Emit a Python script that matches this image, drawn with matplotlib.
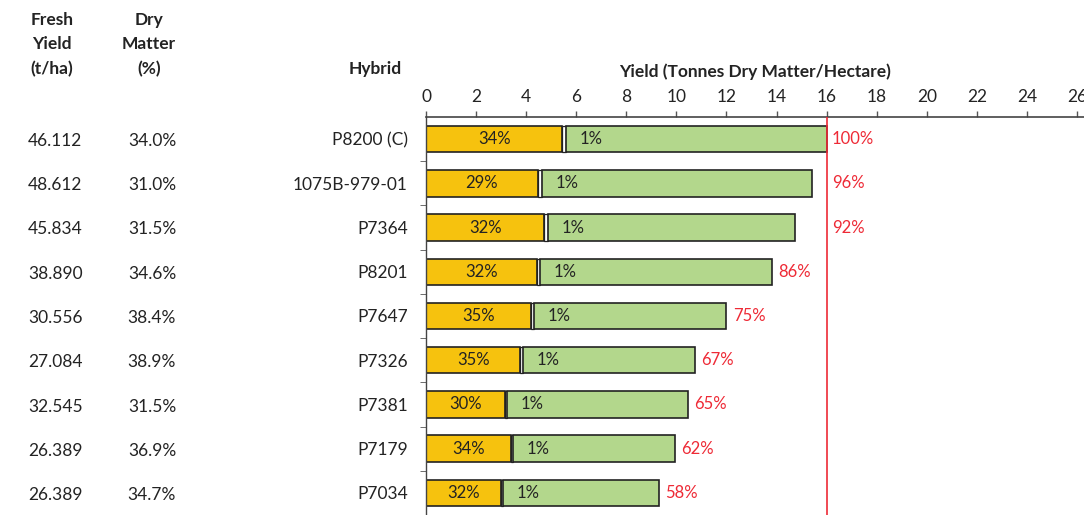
import numpy as np
import matplotlib.pyplot as plt

plt.rcParams['font.family'] = ['Lato', 'DejaVu Sans']

hybrids = ["P8200 (C)", "1075B-979-01", "P7364", "P8201", "P7647",
           "P7326", "P7381", "P7179", "P7034"]
fresh_yield = [46.112, 48.612, 45.834, 38.890, 30.556, 27.084, 32.545, 26.389, 26.389]
dry_matter = [34.0, 31.0, 31.5, 34.6, 38.4, 38.9, 31.5, 36.9, 34.7]
total_yield = [16.0, 15.4, 14.75, 13.8, 12.0, 10.75, 10.45, 9.95, 9.3]
yellow_pct = [34, 29, 32, 32, 35, 35, 30, 34, 32]
mid_pct = [1, 1, 1, 1, 1, 1, 1, 1, 1]
rel_yield = [100, 96, 92, 86, 75, 67, 65, 62, 58]
check_line = 16.0
xticks = list(range(0, 27, 2))

YELLOW = "#f6c20e"
GREEN = "#b3d78c"
EDGE = "#222222"
RED = "#ee2a36"
TEXT = "#232323"

total = np.array(total_yield)
yel = total * np.array(yellow_pct) / 100
mid = total * np.array(mid_pct) / 100
grn = total - yel - mid
y = np.arange(len(hybrids))

fig = plt.figure(figsize=(10.84, 5.15), dpi=100)
ax = fig.add_axes([426 / 1084, 0, 1 - 426 / 1084, 398 / 515])

h = 0.6
ax.barh(y, yel, height=h, color=YELLOW, edgecolor=EDGE, linewidth=1.2)
ax.barh(y, mid, left=yel, height=h, color="white", edgecolor=EDGE, linewidth=0.9)
ax.barh(y, grn, left=yel + mid, height=h, color=GREEN, edgecolor=EDGE, linewidth=1.2)

for i in range(len(hybrids)):
    ax.text(yel[i] / 2, y[i], f"{yellow_pct[i]}%", ha="center", va="center",
            fontsize=12, color=TEXT)
    ax.text(yel[i] + mid[i] + 1.0, y[i], f"{mid_pct[i]}%", ha="center", va="center",
            fontsize=12, color=TEXT)
    if total[i] > 14.5:
        lx = check_line + 0.2
    else:
        lx = total[i] + 0.25
    ax.text(lx, y[i], f"{rel_yield[i]}%", ha="left", va="center",
            fontsize=12, color=RED)

ax.axvline(check_line, color=RED, linewidth=1.2, zorder=5)

ax.set_xlim(0, 658 / 25.04)
ax.set_ylim(len(hybrids) - 0.5, -0.5)
ax.xaxis.tick_top()
ax.set_xticks(xticks)
ax.tick_params(axis="x", length=4, width=1, color="#555555", labelsize=12.5,
               labelcolor=TEXT, pad=5)
ax.set_yticks(y)
ax.set_yticklabels(hybrids)
ax.tick_params(axis="y", length=0, labelsize=12.5, labelcolor=TEXT, pad=13)
ax.set_yticks(np.arange(len(hybrids) - 1) + 0.5, minor=True)
ax.tick_params(axis="y", which="minor", length=4, color="#555555")

for s in ["right", "bottom"]:
    ax.spines[s].set_visible(False)
ax.spines["top"].set_color("#444444")
ax.spines["left"].set_color("#444444")
ax.spines["top"].set_linewidth(1.2)
ax.spines["left"].set_linewidth(1.0)

ax.set_title("Yield (Tonnes Dry Matter/Hectare)", fontsize=12.5, fontweight="bold",
             color=TEXT, pad=29)

# left-hand table columns
def fy(px):
    return 1 - px / 515

fig.text(52 / 1084, fy(20), "Fresh", ha="center", va="center", fontsize=12.5,
         fontweight="bold", color=TEXT)
fig.text(52 / 1084, fy(44), "Yield", ha="center", va="center", fontsize=12.5,
         fontweight="bold", color=TEXT)
fig.text(52 / 1084, fy(69), "(t/ha)", ha="center", va="center", fontsize=12.5,
         fontweight="bold", color=TEXT)
fig.text(149 / 1084, fy(20), "Dry", ha="center", va="center", fontsize=12.5,
         fontweight="bold", color=TEXT)
fig.text(149 / 1084, fy(44), "Matter", ha="center", va="center", fontsize=12.5,
         fontweight="bold", color=TEXT)
fig.text(149 / 1084, fy(69), "(%)", ha="center", va="center", fontsize=12.5,
         fontweight="bold", color=TEXT)
fig.text(402 / 1084, fy(69), "Hybrid", ha="right", va="center", fontsize=12.5,
         fontweight="bold", color=TEXT)

for i in range(len(hybrids)):
    row_y = 141 + 44.25 * i
    fig.text(28 / 1084, fy(row_y), f"{fresh_yield[i]:.3f}", ha="left", va="center",
             fontsize=12.5, color=TEXT)
    fig.text(152 / 1084, fy(row_y), f"{dry_matter[i]:.1f}%", ha="center", va="center",
             fontsize=12.5, color=TEXT)

fig.savefig("out.png", dpi=100)
